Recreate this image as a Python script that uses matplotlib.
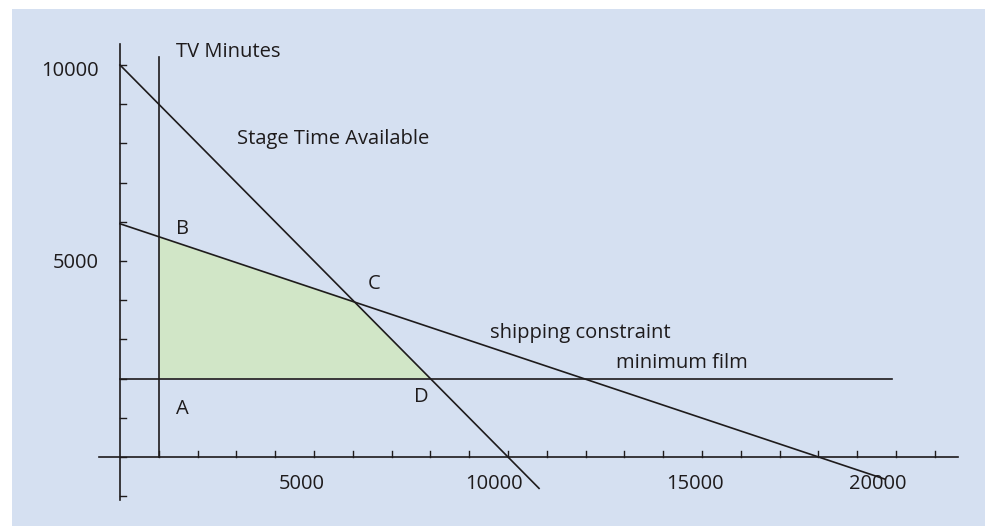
import matplotlib
matplotlib.use("Agg")
import matplotlib.pyplot as plt
from matplotlib.patches import Rectangle, Polygon

# constraint lines
tv_x = [1000, 1000]
tv_y = [0, 10200]
stage_x = [0, 10800]
stage_y = [10000, -800]
ship_x = [0, 19700]
ship_y = [5950, -560]
film_x = [0, 19900]
film_y = [2000, 2000]

# feasible region A-B-C-D
region_x = [1000, 1000, 6000, 8000]
region_y = [2000, 5620, 3990, 2000]

x_ticks = list(range(1000, 22000, 1000))
y_ticks = list(range(-1000, 11000, 1000))
x_labels = [5000, 10000, 15000, 20000]
y_labels = [5000, 10000]

# (text, x, y)
notes = [("TV Minutes", 1440, 10330),
         ("Stage Time Available", 3015, 8110),
         ("B", 1440, 5820),
         ("A", 1440, 1225),
         ("C", 6390, 4410),
         ("D", 7580, 1530),
         ("shipping constraint", 9540, 3160),
         ("minimum film", 12780, 2400)]

ink = "#1e1b1c"
fs = 14.5
plt.rcParams['font.family'] = ['Open Sans', 'DejaVu Sans']

fig = plt.figure(figsize=(9.85, 5.26), dpi=100, facecolor="white")
ax = fig.add_axes([0, 0, 1, 1])
ax.set_facecolor("none")
ax.set_xlim(-120 / 0.0388, (985 - 120) / 0.0388)
ax.set_ylim(-(526 - 457) / 0.0392, 457 / 0.0392)
ax.axis("off")

# blue panel behind everything
ax.add_patch(Rectangle((12 / 985, 0), 1, 1 - 9 / 526, transform=fig.transFigure,
                       facecolor="#d5e0f1", edgecolor="none", zorder=0, clip_on=False))

ax.add_patch(Polygon(list(zip(region_x, region_y)), closed=True,
                     facecolor="#d1e6c7", edgecolor="none", zorder=1))

lw = 1.2
# axes
ax.plot([-540, 21600], [0, 0], color=ink, lw=lw, zorder=2)
ax.plot([0, 0], [-1100, 10540], color=ink, lw=lw, zorder=2)
for t in x_ticks:
    ax.plot([t, t], [0, 150], color=ink, lw=1, zorder=2)
for t in y_ticks:
    ax.plot([0, 155], [t, t], color=ink, lw=1, zorder=2)

# constraints
ax.plot(tv_x, tv_y, color=ink, lw=lw, zorder=2)
ax.plot(stage_x, stage_y, color=ink, lw=lw, zorder=2)
ax.plot(ship_x, ship_y, color=ink, lw=lw, zorder=2)
ax.plot(film_x, film_y, color=ink, lw=lw, zorder=2)

# tick labels sit a little left of their ticks, unevenly, as in the original
x_shift = {5000: -310, 10000: -360, 15000: -180, 20000: -460}
y_shift = {5000: 0, 10000: -90}
for v in x_labels:
    ax.text(v + x_shift[v], -680, str(v), ha="center", va="center", fontsize=fs, color=ink)
for v in y_labels:
    ax.text(-540, v + y_shift[v], str(v), ha="right", va="center_baseline",
            fontsize=fs, color=ink)

for s, x, y in notes:
    ax.text(x, y, s, ha="left", va="center", fontsize=fs, color=ink)

fig.savefig("out.png", dpi=100, facecolor="white")
